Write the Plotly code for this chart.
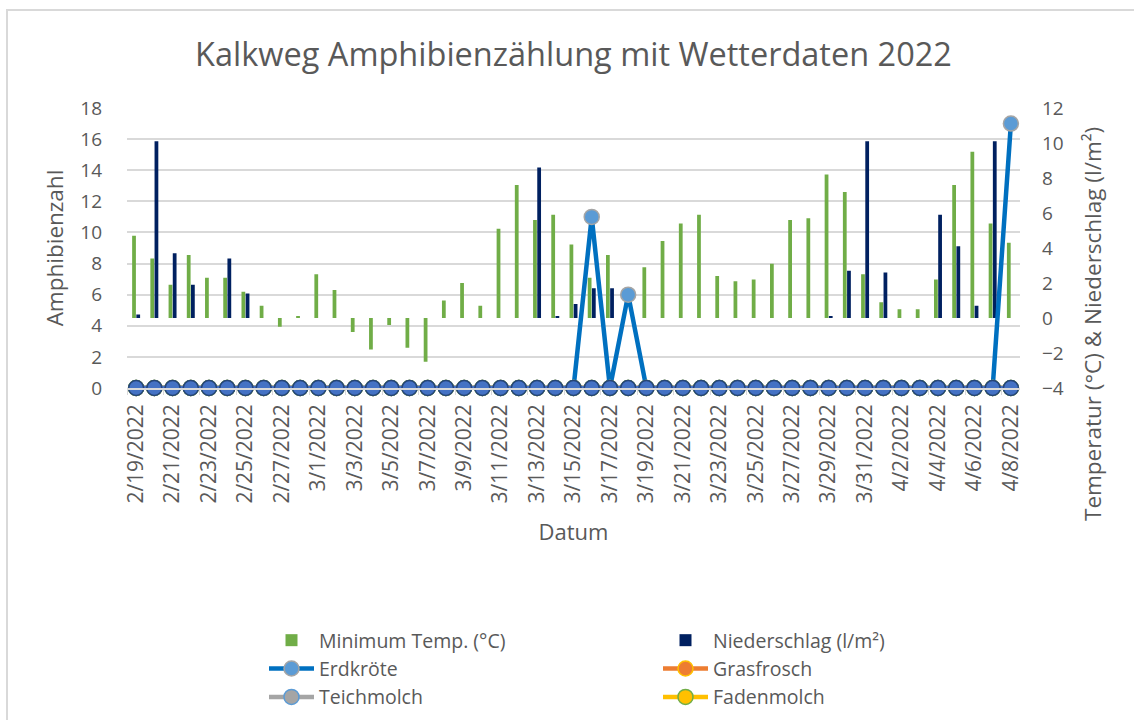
import plotly.graph_objects as go

dates = [
    "2/19/2022", "2/20/2022", "2/21/2022", "2/22/2022", "2/23/2022", "2/24/2022", "2/25/2022",
    "2/26/2022", "2/27/2022", "2/28/2022", "3/1/2022", "3/2/2022", "3/3/2022", "3/4/2022",
    "3/5/2022", "3/6/2022", "3/7/2022", "3/8/2022", "3/9/2022", "3/10/2022", "3/11/2022",
    "3/12/2022", "3/13/2022", "3/14/2022", "3/15/2022", "3/16/2022", "3/17/2022", "3/18/2022",
    "3/19/2022", "3/20/2022", "3/21/2022", "3/22/2022", "3/23/2022", "3/24/2022", "3/25/2022",
    "3/26/2022", "3/27/2022", "3/28/2022", "3/29/2022", "3/30/2022", "3/31/2022", "4/1/2022",
    "4/2/2022", "4/3/2022", "4/4/2022", "4/5/2022", "4/6/2022", "4/7/2022", "4/8/2022",
]

min_temp = [
    4.7, 3.4, 1.9, 3.6, 2.3, 2.3, 1.5,
    0.7, -0.5, 0.1, 2.5, 1.6, -0.8, -1.8,
    -0.4, -1.7, -2.5, 1.0, 2.0, 0.7, 5.1,
    7.6, 5.6, 5.9, 4.2, 2.3, 3.6, None,
    2.9, 4.4, 5.4, 5.9, 2.4, 2.1, 2.2,
    3.1, 5.6, 5.7, 8.2, 7.2, 2.5, 0.9,
    0.5, 0.5, 2.2, 7.6, 9.5, 5.4, 4.3,
]

niederschlag = [
    0.2, 10.1, 3.7, 1.9, 0, 3.4, 1.4,
    0, 0, 0, 0, 0, 0, 0,
    0, 0, 0, 0, 0, 0, 0,
    0, 8.6, 0.1, 0.8, 1.7, 1.7, 0,
    0, 0, 0, 0, 0, 0, 0,
    0, 0, 0, 0.1, 2.7, 10.1, 2.6,
    0, 0, 5.9, 4.1, 0.7, 10.1, 0,
]

erdkroete = [0] * 25 + [11, 0, 6] + [0] * 20 + [17]
grasfrosch = [0] * 49
teichmolch = [0] * 49
fadenmolch = [0] * 49
weitere = [0] * 49

TXT = "#595959"
GRID = "#D9D9D9"
FONT = "Open Sans"

fig = go.Figure()

fig.add_trace(go.Bar(x=dates, y=min_temp, name="Minimum Temp. (°C)",
                     marker=dict(color="#70AD47", line=dict(width=0)), yaxis="y"))
fig.add_trace(go.Bar(x=dates, y=niederschlag, name="Niederschlag (l/m²)",
                     marker=dict(color="#002060", line=dict(width=0)), yaxis="y"))

def line_trace(vals, name, lc, mc, mlc, show=True):
    return go.Scatter(x=dates, y=vals, name=name, mode="lines+markers", yaxis="y2",
                      showlegend=show, cliponaxis=False,
                      line=dict(color=lc, width=4.5),
                      marker=dict(symbol="circle", size=15, color=mc,
                                  line=dict(color=mlc, width=1.5)))

fig.add_trace(line_trace(erdkroete, "Erdkröte", "#0070C0", "#5B9BD5", "#A5A5A5"))
fig.add_trace(line_trace(grasfrosch, "Grasfrosch", "#ED7D31", "#ED7D31", "#FFC000"))
fig.add_trace(line_trace(teichmolch, "Teichmolch", "#A5A5A5", "#A5A5A5", "#5B9BD5"))
fig.add_trace(line_trace(fadenmolch, "Fadenmolch", "#FFC000", "#FFC000", "#70AD47"))
fig.add_trace(line_trace(weitere, "Weitere", "#4472C4", "#4472C4", "#264478", show=False))

L, R, T, B = 127, 114, 108, 332
W, H = 1134, 720
pw, ph = W - L - R, H - T - B

def px_x(p):
    return (p - L) / pw

def px_y(p):
    return (H - B - p) / ph

fig.update_layout(
    width=W, height=H,
    margin=dict(l=L, r=R, t=T, b=B, autoexpand=False),
    paper_bgcolor="white", plot_bgcolor="white",
    font=dict(family=FONT, color=TXT, size=19),
    barmode="group", bargap=0.54, bargroupgap=0.1,
    title=dict(text="Kalkweg Amphibienzählung mit Wetterdaten 2022",
               font=dict(family=FONT, size=32.5, color=TXT),
               x=0.5, xref="paper", xanchor="center",
               y=1 - 55 / H, yref="container", yanchor="middle"),
    xaxis=dict(type="category", range=[-0.5, len(dates) - 0.5], autorange=False,
               tickangle=-90, dtick=2, tick0=0, automargin=False,
               showgrid=False, showline=True, linecolor=GRID, linewidth=1.5,
               ticks="outside", tickson="boundaries", ticklen=5, tickcolor=GRID,
               tickfont=dict(size=21, color=TXT), ticklabelstandoff=6,
               title=dict(text="Datum", font=dict(size=22, color=TXT), standoff=22)),
    yaxis=dict(side="right", range=[-4, 12], dtick=2, showgrid=False, zeroline=False,
               automargin=False,
               tickfont=dict(size=19, color=TXT), ticklabelstandoff=21),
    yaxis2=dict(side="left", overlaying="y", range=[0, 18], dtick=2, automargin=False,
                showgrid=True, gridcolor=GRID, gridwidth=1.5, zeroline=False,
                tickfont=dict(size=19, color=TXT), ticklabelstandoff=24,
                title=dict(text="Amphibienzahl", font=dict(size=22.5, color=TXT), standoff=10)),
    legend=dict(orientation="h", xref="container", yref="container",
                x=264 / W, y=1 - 621 / H, xanchor="left", yanchor="top",
                entrywidth=334, entrywidthmode="pixels", itemwidth=45,
                font=dict(size=19.5, color=TXT), traceorder="normal"),
    annotations=[dict(text="Temperatur (°C) & Niederschlag (l/m²)", textangle=-90,
                      xref="paper", yref="paper", x=px_x(1092), y=px_y(324),
                      xanchor="center", yanchor="middle", showarrow=False,
                      font=dict(size=22.5, color=TXT))],
    shapes=[dict(type="rect", xref="paper", yref="paper",
                 x0=px_x(7), x1=px_x(1145), y0=px_y(735), y1=px_y(10),
                 line=dict(color=GRID, width=2), fillcolor="rgba(0,0,0,0)", layer="below")],
)

fig.write_html("out.html", config={"displayModeBar": False},
               post_script="document.body.style.margin='0';")
